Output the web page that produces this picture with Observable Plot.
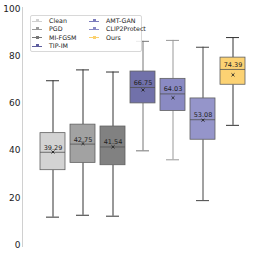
<!DOCTYPE html>
<html><head><meta charset="utf-8">
<script src="https://cdn.jsdelivr.net/npm/d3@7"></script>
<script src="https://cdn.jsdelivr.net/npm/@observablehq/plot@0.6"></script>
<style>
body{margin:0;background:#fff;font-family:"DejaVu Sans",sans-serif;}
#wrap{position:relative;width:266px;height:254px;}
#legend{position:absolute;left:30px;top:15px;width:110px;height:35px;border:1px solid #d8d8d8;border-radius:2px;background:rgba(255,255,255,0.85);font-size:6.3px;color:#222;}
.it{position:absolute;height:8px;line-height:8px;white-space:nowrap;}
.ln{position:absolute;top:3.5px;left:0;width:10px;height:1px;}
.mk{position:absolute;top:2px;left:3.5px;width:3px;height:3px;}
.tx{position:absolute;left:17px;top:0;}
</style></head>
<body><div id="wrap"><div id="chart"></div><div id="legend"></div></div>
<script>
const methods = ["Clean","PGD","MI-FGSM","TIP-IM","AMT-GAN","CLIP2Protect","Ours"];
const q1     = [31.7, 34.8, 33.8, 60.0, 56.8, 44.6, 67.9];
const median = [39.29, 42.75, 41.54, 66.75, 64.03, 53.08, 74.39];
const q3     = [47.4, 51.0, 50.2, 73.5, 70.4, 62.1, 79.4];
const lo     = [11.8, 12.6, 12.2, 39.9, 36.1, 18.8, 50.7];
const hi     = [69.6, 74.2, 73.3, 86.3, 86.7, 83.8, 87.9];
const mean   = [39.4, 43.0, 41.6, 65.7, 62.4, 52.9, 72.1];
const fills  = ["#d3d3d3","#a2a2a2","#818181","#7171aa","#8a8ac3","#9595ca","#fcd273"];
const legendColors = ["#d0d0d0","#9a9a9a","#777777","#5e5e9e","#7c7cbc","#8a8ac6","#fbd16f"];
const whiskerColors = ["#333","#333","#333","#777","#999","#444","#333"];
const yTicks = [0,20,40,60,80,100];

const data = methods.map((m,i)=>({m, q1:q1[i], med:median[i], q3:q3[i], lo:lo[i], hi:hi[i], mean:mean[i], fill:fills[i], wc:whiskerColors[i], label:median[i].toFixed(2)}));

const chart = Plot.plot({
  width: 266, height: 254,
  marginLeft: 22, marginRight: 19, marginTop: 7, marginBottom: 8,
  style: {fontFamily: "DejaVu Sans, sans-serif", background: "#fff"},
  x: {domain: methods, range: [37, 247], paddingInner: 0.17, paddingOuter: 0.085, axis: null},
  y: {domain: [-0.64, 100.64], ticks: yTicks, label: null},
  marks: [
    Plot.frame({anchor: "left", stroke: "#d0d0d0"}),
    Plot.axisY({ticks: yTicks, tickSize: 0, tickPadding: 2, fontSize: 9, label: null, fill: "#222"}),
    Plot.ruleX(data, {x: "m", y1: "lo", y2: "q1", stroke: "wc", strokeWidth: 1}),
    Plot.ruleX(data, {x: "m", y1: "q3", y2: "hi", stroke: "wc", strokeWidth: 1}),
    Plot.tickY(data, {x: "m", y: "lo", stroke: "wc", strokeWidth: 1, insetLeft: 6, insetRight: 6}),
    Plot.tickY(data, {x: "m", y: "hi", stroke: "wc", strokeWidth: 1, insetLeft: 6, insetRight: 6}),
    Plot.barY(data, {x: "m", y1: "q1", y2: "q3", fill: "fill", stroke: "#606060", strokeWidth: 0.8}),
    Plot.tickY(data, {x: "m", y: "med", stroke: "#505050", strokeWidth: 0.8}),
    Plot.dot(data, {x: "m", y: "mean", symbol: "times", r: 1.5, stroke: "#222", strokeWidth: 0.9}),
    Plot.text(data, {x: "m", y: "med", text: "label", dy: -2.5, lineAnchor: "bottom", fontSize: 6.5, fill: "#222"})
  ]
});
document.getElementById("chart").appendChild(chart);

const legend = document.getElementById("legend");
methods.forEach((m,i)=>{
  const col = i < 4 ? 0 : 1;
  const row = i < 4 ? i : i - 4;
  const it = document.createElement("div");
  it.className = "it";
  it.style.left = (col === 0 ? 1 : 58) + "px";
  it.style.top = (1 + row * 8.4) + "px";
  it.innerHTML = `<div class="ln" style="background:${legendColors[i]}"></div><div class="mk" style="background:${legendColors[i]}"></div><div class="tx"></div>`;
  it.querySelector(".tx").textContent = m;
  legend.appendChild(it);
});
</script></body></html>
